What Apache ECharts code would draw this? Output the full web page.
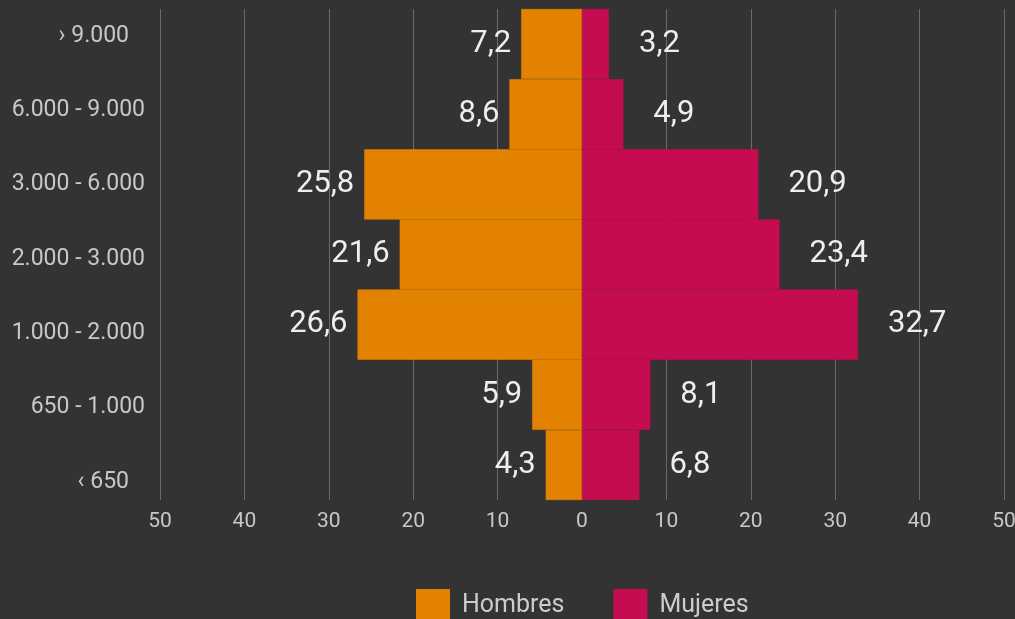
<!DOCTYPE html>
<html>
<head>
<meta charset="utf-8">
<script src="https://cdn.jsdelivr.net/npm/echarts@6/dist/echarts.min.js"></script>
<style>
  html, body { margin: 0; padding: 0; background: #333333; }
  #chart { width: 1015px; height: 619px; }
</style>
</head>
<body>
<div id="chart"></div>
<script>
// tramos de renta, de abajo arriba
var categories = ["‹ 650", "650 - 1.000", "1.000 - 2.000", "2.000 - 3.000", "3.000 - 6.000", "6.000 - 9.000", "› 9.000"];
var hombres = [4.3, 5.9, 26.6, 21.6, 25.8, 8.6, 7.2];
var mujeres = [6.8, 8.1, 32.7, 23.4, 20.9, 4.9, 3.2];
var xTicks = [-50, -40, -30, -20, -10, 0, 10, 20, 30, 40, 50];

var font = "Roboto";
var colors = ["#e38200", "#c60c51"];

function fmt(v) {
  return Math.abs(v).toFixed(1).replace(".", ",");
}

var option = {
  backgroundColor: "#333333",
  color: colors,
  animation: false,
  textStyle: { fontFamily: font },
  legend: {
    data: ["Hombres", "Mujeres"],
    bottom: -9,
    left: 411,
    itemWidth: 32,
    itemHeight: 32,
    itemGap: 49,
    icon: "rect",
    textStyle: { color: "#cccccc", fontSize: 25, fontFamily: font, padding: [0, 0, 0, 8] }
  },
  grid: [
    { left: 160, right: 11, top: 9, bottom: 119, outerBoundsMode: "none" },
    { left: 160, right: 11, top: 36, height: 446, outerBoundsMode: "none" }
  ],
  xAxis: [
    {
      type: "value",
      gridIndex: 0,
      min: xTicks[0],
      max: xTicks[xTicks.length - 1],
      interval: 10,
      axisLine: { show: false },
      axisTick: { show: false },
      splitLine: { lineStyle: { color: "#6a6a6a", width: 1 } },
      axisLabel: {
        color: "#c8c8c8",
        fontSize: 21,
        margin: 11,
        formatter: function (v) { return Math.abs(v); }
      }
    },
    {
      type: "value",
      gridIndex: 1,
      show: false
    }
  ],
  yAxis: [
    {
      type: "category",
      gridIndex: 0,
      data: categories,
      axisLine: { show: false },
      axisTick: { show: false },
      axisLabel: { show: false }
    },
    {
      type: "category",
      gridIndex: 1,
      data: categories,
      boundaryGap: false,
      axisLine: { show: false },
      axisTick: { show: false },
      splitLine: { show: false },
      axisLabel: {
        color: "#c8c8c8",
        fontSize: 23,
        margin: 15,
        formatter: function (v) {
          return v.length < 8 ? "{s|" + v + "}" : v;
        },
        rich: {
          s: { color: "#c8c8c8", fontSize: 23, fontFamily: font, padding: [0, 16, 0, 0] }
        }
      }
    }
  ],
  series: [
    {
      name: "Hombres",
      type: "bar",
      stack: "total",
      barWidth: "100%",
      data: hombres.map(function (v) { return -v; }),
      itemStyle: { borderColor: colors[0], borderWidth: 0.6 },
      label: {
        show: true,
        position: "left",
        distance: 10,
        color: "#eeeeee",
        fontSize: 31,
        fontFamily: font,
        formatter: function (p) { return fmt(p.value); }
      }
    },
    {
      name: "Mujeres",
      type: "bar",
      stack: "total",
      barWidth: "100%",
      data: mujeres,
      itemStyle: { borderColor: colors[1], borderWidth: 0.6 },
      label: {
        show: true,
        position: "right",
        distance: 30,
        color: "#eeeeee",
        fontSize: 31,
        fontFamily: font,
        formatter: function (p) { return fmt(p.value); }
      }
    }
  ]
};

var chart = echarts.init(document.getElementById("chart"));
chart.setOption(option);
</script>
</body>
</html>
